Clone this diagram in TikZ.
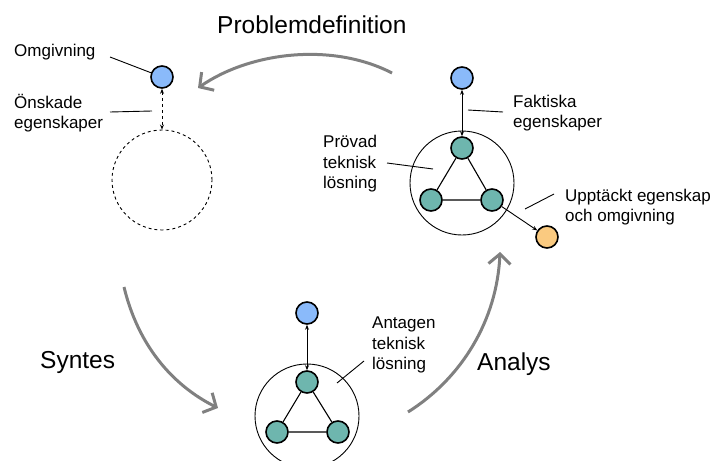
\documentclass[tikz,border=0pt]{standalone}
\usepackage{fontspec}
\setmainfont{Liberation Sans}
\usetikzlibrary{arrows.meta}
\definecolor{envblue}{RGB}{138,186,250}
\definecolor{partteal}{RGB}{110,182,174}
\definecolor{foundorange}{RGB}{250,202,128}
\definecolor{cyclegray}{RGB}{128,128,128}
\tikzset{
  dot/.style={circle,draw=black,line width=1.6pt,minimum size=22pt,inner sep=0pt},
  envdot/.style={dot,fill=envblue},
  partdot/.style={dot,fill=partteal},
  founddot/.style={dot,fill=foundorange},
  system/.style={circle,draw=black,line width=0.9pt,minimum size=104pt,inner sep=0pt},
  wanted/.style={circle,draw=black,dashed,line width=0.9pt,minimum size=100pt,inner sep=0pt},
  label/.style={font=\fontsize{17}{20.5}\selectfont,align=left,anchor=west,inner sep=0pt},
  phase/.style={font=\fontsize{24.5}{28}\selectfont,anchor=west,inner sep=0pt},
  leader/.style={line width=0.9pt},
  link/.style={line width=1.1pt},
  relation/.style={line width=0.9pt,{Stealth[length=5pt,width=4pt]}-{Stealth[length=5pt,width=4pt]}},
  cycle/.style={draw=cyclegray,line width=3pt,-{Straight Barb[length=10pt,width=22pt,line width=3pt]}}
}
\begin{document}
\begin{tikzpicture}[x=1pt,y=-1pt]
\useasboundingbox (0,0) rectangle (714,460);

% Problem definition: desired properties of the environment
\node[envdot] (envA) at (162,77) {};
\node[wanted] (wantA) at (162,180) {};
\draw[relation,dashed] (envA) -- (wantA);
\node[label] (omg) at (14,52) {Omgivning};
\node[label] (onsk) at (14,113) {Önskade\\egenskaper};
\coordinate (omgL) at (110,57);
\coordinate (onskL) at (110,112);
\coordinate (onskR) at (152,111);
\draw[leader] (omgL) -- (envA);
\draw[leader] (onskL) -- (onskR);

% Analysis: tested technical solution
\node[system] (sysC) at (462,183) {};
\node[envdot] (envC) at (462,78) {};
\node[partdot] (cT) at (462,148) {};
\node[partdot] (cL) at (431,200) {};
\node[partdot] (cR) at (492,200) {};
\node[founddot] (found) at (547,237) {};
\draw[link] (cT) -- (cL) -- (cR) -- (cT);
\draw[relation] (cT) -- (envC);
\draw[line width=0.9pt,-{Stealth[length=5pt,width=4pt]}] (cR) -- (found);
\node[label] (fakt) at (513,113) {Faktiska\\egenskaper};
\node[label] (prov) at (323,164) {Prövad\\teknisk\\lösning};
\node[label] (uppt) at (565,207) {Upptäckt egenskap\\och omgivning};
\coordinate (faktA) at (468,110);
\coordinate (faktB) at (503,112);
\coordinate (provA) at (387,163);
\coordinate (provB) at (433,169);
\coordinate (upptA) at (554,194);
\coordinate (upptB) at (525,209);
\draw[leader] (faktA) -- (faktB);
\draw[leader] (provA) -- (provB);
\draw[leader] (upptA) -- (upptB);

% Synthesis: assumed technical solution
\node[system] (sysB) at (307,416) {};
\node[envdot] (envB) at (307,313) {};
\node[partdot] (bT) at (307,382) {};
\node[partdot] (bL) at (277,432) {};
\node[partdot] (bR) at (338,432) {};
\draw[link] (bT) -- (bL) -- (bR) -- (bT);
\draw[relation] (bT) -- (envB);
\node[label] (anta) at (372,345) {Antagen\\teknisk\\lösning};
\coordinate (antaA) at (337,383);
\coordinate (antaB) at (364,361);
\draw[leader] (antaA) -- (antaB);

% Design cycle
\coordinate (pdS) at (392,73);
\coordinate (pdE) at (198,88);
\coordinate (syS) at (124,287);
\coordinate (syE) at (218,408);
\coordinate (anS) at (408,412);
\coordinate (anE) at (500,252);
\draw[cycle] (pdS) .. controls (332,42) and (250,52) .. (pdE);
\draw[cycle] (syS) .. controls (138,345) and (172,385) .. (syE);
\draw[cycle] (anS) .. controls (462,378) and (497,320) .. (anE);
\node[phase] (pdT) at (217,25) {Problemdefinition};
\node[phase] (syT) at (40,362) {Syntes};
\node[phase] (anT) at (477,364) {Analys};
\end{tikzpicture}
\end{document}
